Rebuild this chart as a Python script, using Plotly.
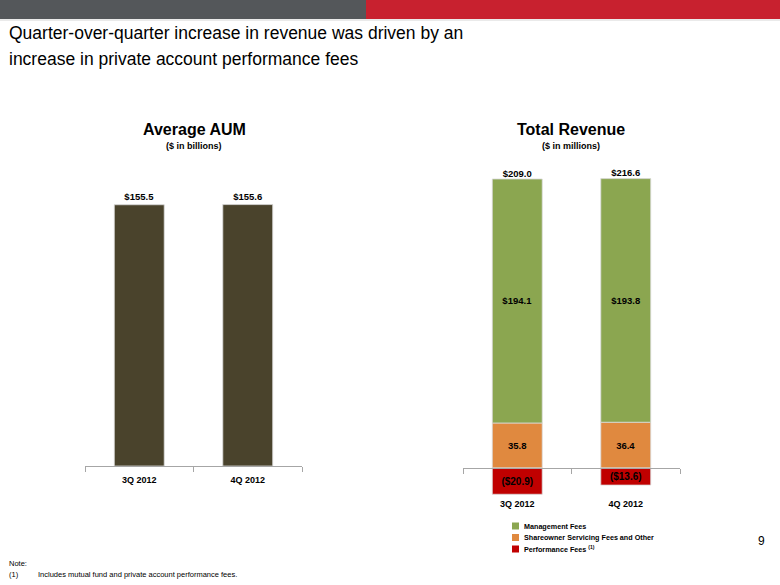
import plotly.graph_objects as go

# ---- data ----
quarters = ["3Q 2012", "4Q 2012"]
aum = [155.5, 155.6]
mgmt_fees = [194.1, 193.8]
shareowner_fees = [35.8, 36.4]
perf_fees = [-20.9, -13.6]
total_revenue = [209.0, 216.6]
legend_names = ["Management Fees", "Shareowner Servicing Fees and Other",
                "Performance Fees <sup>(1)</sup>"]

SANS = "Liberation Sans, Arial, sans-serif"

C_AUM = "#4A432C"
C_MGMT = "#8BA650"
C_SHARE = "#E0893F"
C_PERF = "#C00000"
legend_colors = [C_MGMT, C_SHARE, C_PERF]
AXIS = "#A6A6A6"
EDGE = dict(color="#D9D9D9", width=0.8)
LBL = dict(family=SANS, size=9.5, color="black", weight="bold")

def money(v):
    return f"(${abs(v):.1f})" if v < 0 else f"${v:.1f}"

fig = go.Figure()

# Left chart: Average AUM
fig.add_trace(go.Bar(
    x=quarters, y=aum, xaxis="x", yaxis="y",
    marker=dict(color=C_AUM, line=EDGE), width=0.46, showlegend=False,
    text=[money(v) for v in aum], textposition="outside",
    textfont=LBL, cliponaxis=False, hoverinfo="skip",
))

# Right chart: Total Revenue (stacked)
fig.add_trace(go.Bar(
    x=quarters, y=shareowner_fees, xaxis="x2", yaxis="y2",
    name="Shareowner Servicing Fees and Other", showlegend=False,
    marker=dict(color=C_SHARE, line=EDGE), width=0.46,
    text=[f"{v:.1f}" for v in shareowner_fees], textposition="inside",
    insidetextanchor="middle", constraintext="none", textfont=LBL,
))
fig.add_trace(go.Bar(
    x=quarters, y=mgmt_fees, xaxis="x2", yaxis="y2",
    name="Management Fees", showlegend=False,
    marker=dict(color=C_MGMT, line=EDGE), width=0.46,
    text=[money(v) for v in mgmt_fees], textposition="inside",
    insidetextanchor="middle", constraintext="none", textfont=LBL,
))
fig.add_trace(go.Bar(
    x=quarters, y=perf_fees, xaxis="x2", yaxis="y2",
    name="Performance Fees", showlegend=False,
    marker=dict(color=C_PERF, line=EDGE), width=0.46,
    text=[money(v) for v in perf_fees], textposition="inside",
    insidetextanchor="middle", constraintext="none",
    textfont=dict(family=SANS, size=10, color="black", weight="bold"),
))
# Totals above stacks
pos_top = [m + s for m, s in zip(mgmt_fees, shareowner_fees)]
fig.add_trace(go.Scatter(
    x=quarters, y=pos_top, xaxis="x2", yaxis="y2", mode="text",
    text=[money(v) for v in total_revenue], textposition="top center",
    textfont=LBL, showlegend=False, cliponaxis=False, hoverinfo="skip",
))

xcommon = dict(type="category", showline=True, linecolor=AXIS, linewidth=1,
               ticks="outside", ticklen=5, tickcolor=AXIS, tickson="boundaries",
               range=[-0.5, 1.5], showgrid=False, zeroline=False, fixedrange=True,
               tickfont=dict(family=SANS, size=9, color="black", weight="bold"))

def txt(text, x, y, size, xanchor="center", bold=False, color="black"):
    return dict(text=text, x=x/780, y=1-y/585, xref="paper", yref="paper",
                xanchor=xanchor, yanchor="middle", align="left", showarrow=False,
                font=dict(family=SANS, size=size, color=color,
                          weight="bold" if bold else "normal"))

shapes = [
    dict(type="rect", xref="paper", yref="paper", x0=0, x1=366/780,
         y0=1-19/585, y1=1, fillcolor="#54575A", line=dict(width=0), layer="below"),
    dict(type="rect", xref="paper", yref="paper", x0=366/780, x1=1,
         y0=1-19/585, y1=1, fillcolor="#C8212F", line=dict(width=0), layer="below"),
    dict(type="line", xref="paper", yref="paper", x0=0, x1=1,
         y0=1-20/585, y1=1-20/585, line=dict(color="#D6D6D6", width=1)),
]
annotations = [
    txt("Quarter-over-quarter increase in revenue was driven by an", 7, 33, 17.5, "left"),
    txt("increase in private account performance fees", 7, 59, 17.5, "left"),
    txt("Average AUM", 194, 129, 16, bold=True),
    txt("($ in billions)", 194, 146, 9, bold=True),
    txt("Total Revenue", 571, 129, 16, bold=True),
    txt("($ in millions)", 571, 146, 9, bold=True),
    txt("9", 767, 541, 12, "right"),
    txt("Note:", 7, 563, 7.5, "left"),
    txt("(1)", 7, 574, 7.5, "left"),
    txt("Includes mutual fund and private account performance fees.", 36, 574, 7.5, "left"),
]
# manual compact legend
for i, (name, col) in enumerate(zip(legend_names, legend_colors)):
    yc = 526 + i * 11.5
    shapes.append(dict(type="rect", xref="paper", yref="paper",
                       x0=512/780, x1=519/780, y0=1-(yc+3.5)/585, y1=1-(yc-3.5)/585,
                       fillcolor=col, line=dict(width=0)))
    annotations.append(txt(name, 522, yc, 7.2, "left", bold=True))

fig.update_layout(
    width=780, height=585,
    margin=dict(l=0, r=0, t=0, b=0),
    paper_bgcolor="white", plot_bgcolor="rgba(0,0,0,0)",
    barmode="relative", showlegend=False,
    xaxis=dict(domain=[85/780, 302/780], anchor="y", ticklabelstandoff=5, **xcommon),
    yaxis=dict(domain=[1-466/585, 1-110/585], range=[0, 211.9], visible=False,
               anchor="x", fixedrange=True),
    xaxis2=dict(domain=[463/780, 680/780], anchor="free", position=1-468/585,
                ticklabelstandoff=27, **xcommon),
    yaxis2=dict(domain=[1-505.7/585, 1-166.3/585], range=[-30, 240], visible=False,
                anchor="x2", fixedrange=True, zeroline=False),
    shapes=shapes,
    annotations=annotations,
)

fig.write_html("out.html", config={"displayModeBar": False},
               post_script="document.body.style.margin='0';")
